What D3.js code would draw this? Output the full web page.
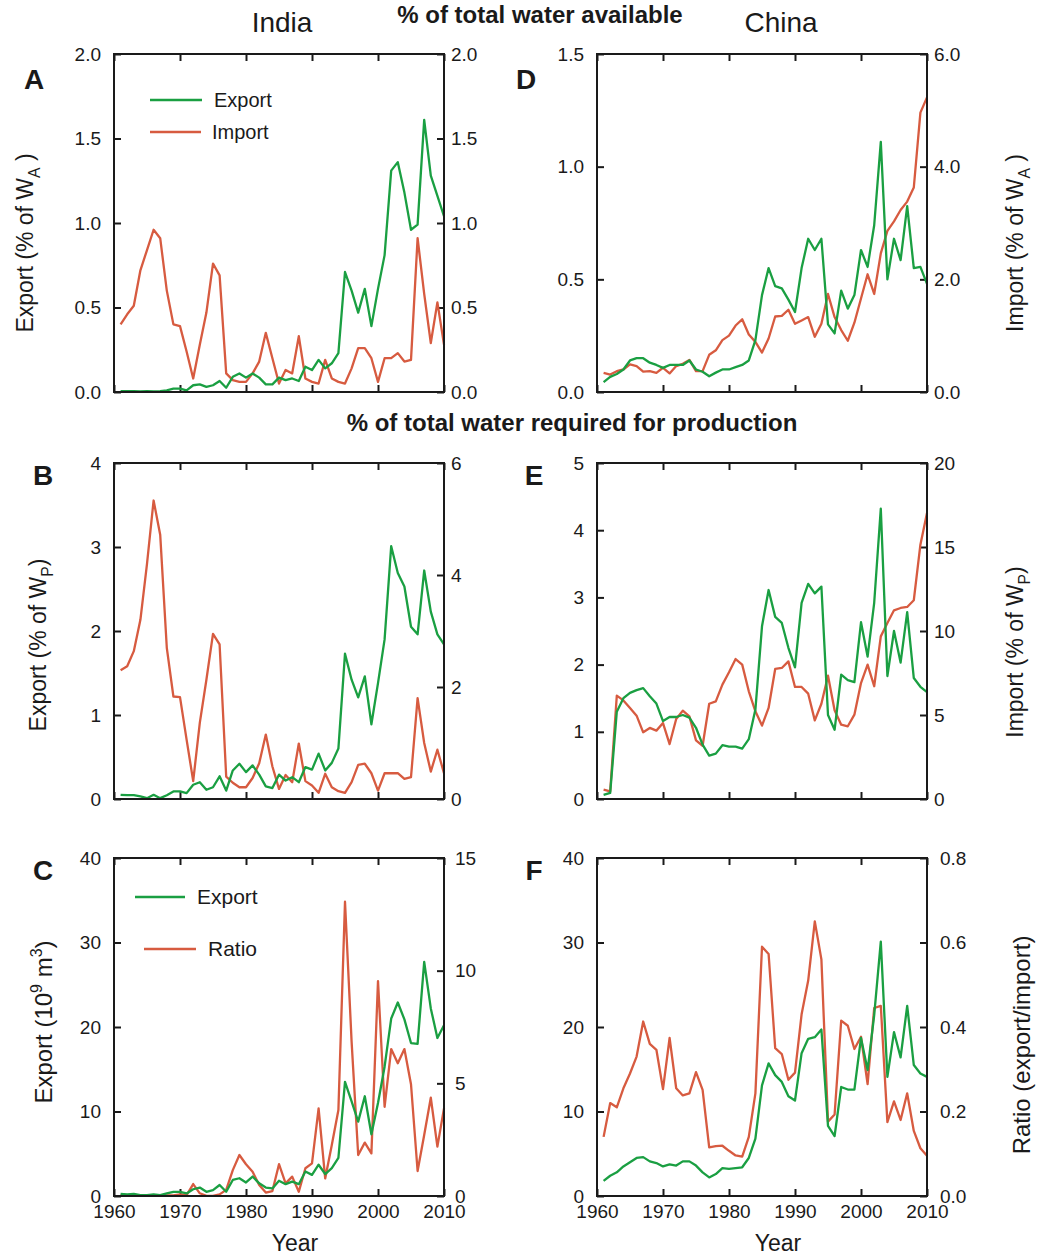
<!DOCTYPE html>
<html>
<head>
<meta charset="utf-8">
<script src="https://cdn.jsdelivr.net/npm/d3@7"></script>
<style>
  html, body { margin: 0; padding: 0; background: #fff; }
  svg { display: block; }
</style>
</head>
<body>
<script>
// ---------------- DATA (years 1961-2010) ----------------
const years = d3.range(1961, 2011);

// India, % of total water available (W_A)
const indiaExportWA = [
  0.005, 0.005, 0.005, 0.003, 0.005, 0.003, 0.005, 0.01, 0.02, 0.02,
  0.01, 0.04, 0.045, 0.03, 0.04, 0.065, 0.025, 0.09, 0.11, 0.085,
  0.11, 0.085, 0.045, 0.045, 0.085, 0.07, 0.08, 0.065, 0.15, 0.13,
  0.19, 0.14, 0.17, 0.23, 0.71, 0.60, 0.47, 0.61, 0.39, 0.61,
  0.81, 1.31, 1.36, 1.18, 0.96, 0.99, 1.61, 1.28, 1.16, 1.04
];
const indiaImportWA = [
  0.40, 0.46, 0.51, 0.72, 0.84, 0.96, 0.91, 0.60, 0.40, 0.39,
  0.24, 0.08, 0.28, 0.47, 0.76, 0.69, 0.11, 0.07, 0.06, 0.06,
  0.11, 0.18, 0.35, 0.20, 0.05, 0.13, 0.11, 0.33, 0.08, 0.06,
  0.05, 0.19, 0.08, 0.06, 0.05, 0.14, 0.26, 0.26, 0.20, 0.06,
  0.20, 0.20, 0.23, 0.18, 0.19, 0.91, 0.58, 0.29, 0.53, 0.28
];
// China, % of W_A
const chinaExportWA = [
  0.044, 0.067, 0.08, 0.10, 0.14, 0.15, 0.15, 0.13, 0.12, 0.107,
  0.12, 0.12, 0.12, 0.14, 0.10, 0.09, 0.07, 0.086, 0.10, 0.10,
  0.11, 0.12, 0.14, 0.23, 0.43, 0.55, 0.47, 0.46, 0.41, 0.355,
  0.55, 0.68, 0.63, 0.68, 0.30, 0.26, 0.45, 0.37, 0.43, 0.63,
  0.555, 0.74, 1.11, 0.50, 0.68, 0.585, 0.825, 0.55, 0.555, 0.48
];
const chinaImportWA = [
  0.34, 0.31, 0.37, 0.40, 0.49, 0.46, 0.36, 0.37, 0.34, 0.43,
  0.33, 0.46, 0.50, 0.57, 0.37, 0.37, 0.66, 0.74, 0.92, 1.00,
  1.18, 1.29, 1.02, 0.89, 0.70, 0.95, 1.34, 1.35, 1.46, 1.21,
  1.27, 1.33, 0.98, 1.21, 1.74, 1.33, 1.10, 0.91, 1.23, 1.66,
  2.09, 1.74, 2.46, 2.86, 3.03, 3.23, 3.38, 3.63, 4.96, 5.23
];
// India, % of total water required for production (W_P)
const indiaExportWP = [
  0.05, 0.045, 0.045, 0.03, 0.01, 0.05, 0.01, 0.045, 0.09, 0.09,
  0.07, 0.17, 0.20, 0.11, 0.14, 0.27, 0.10, 0.34, 0.42, 0.32,
  0.40, 0.29, 0.15, 0.13, 0.29, 0.22, 0.26, 0.20, 0.38, 0.35,
  0.54, 0.34, 0.43, 0.60, 1.73, 1.42, 1.21, 1.46, 0.89, 1.38,
  1.90, 3.01, 2.69, 2.53, 2.05, 1.96, 2.72, 2.23, 1.96, 1.84
];
const indiaImportWP = [
  2.30, 2.37, 2.64, 3.20, 4.20, 5.33, 4.72, 2.70, 1.83, 1.82,
  1.06, 0.32, 1.36, 2.13, 2.95, 2.76, 0.40, 0.29, 0.21, 0.21,
  0.375, 0.64, 1.15, 0.58, 0.18, 0.43, 0.30, 0.99, 0.32, 0.24,
  0.11, 0.45, 0.21, 0.14, 0.11, 0.30, 0.61, 0.63, 0.46, 0.15,
  0.46, 0.46, 0.46, 0.36, 0.39, 1.80, 1.00, 0.49, 0.88, 0.46
];
// China, % of W_P
const chinaExportWP = [
  0.06, 0.09, 1.30, 1.50, 1.58, 1.62, 1.65, 1.53, 1.42, 1.16,
  1.22, 1.22, 1.25, 1.21, 1.06, 0.81, 0.645, 0.675, 0.80, 0.78,
  0.78, 0.75, 0.89, 1.33, 2.57, 3.11, 2.71, 2.62, 2.25, 1.96,
  2.92, 3.20, 3.06, 3.16, 1.25, 1.03, 1.85, 1.77, 1.74, 2.63,
  2.12, 2.92, 4.32, 1.83, 2.50, 2.03, 2.78, 1.80, 1.67, 1.59
];
const chinaImportWP = [
  0.56, 0.46, 6.15, 5.87, 5.42, 4.96, 3.97, 4.23, 4.07, 4.52,
  3.27, 4.76, 5.26, 4.92, 3.49, 3.17, 5.67, 5.81, 6.81, 7.54,
  8.33, 8.00, 6.41, 5.22, 4.37, 5.42, 7.74, 7.80, 8.19, 6.67,
  6.67, 6.27, 4.68, 5.67, 7.34, 5.28, 4.42, 4.33, 5.02, 6.90,
  8.00, 6.71, 9.68, 10.48, 11.23, 11.37, 11.43, 11.83, 15.14, 17.02
];
// Export volume (10^9 m^3) and ratio export/import
const indiaExportVol = [
  0.24, 0.2, 0.24, 0.1, 0.1, 0.2, 0.1, 0.3, 0.5, 0.5,
  0.3, 0.8, 1.0, 0.5, 0.7, 1.3, 0.5, 1.9, 2.1, 1.6,
  2.3, 1.5, 1.0, 0.9, 1.8, 1.4, 1.7, 1.4, 2.9, 2.5,
  3.7, 2.6, 3.3, 4.5, 13.5, 11.2, 8.8, 11.8, 7.3, 11.0,
  15.3, 21.0, 22.9, 20.9, 18.1, 18.0, 27.7, 22.2, 18.7, 20.2
];
const indiaRatio = [
  0.04, 0.03, 0.03, 0.03, 0.03, 0.03, 0.03, 0.03, 0.03, 0.07,
  0.04, 0.53, 0.12, 0.01, 0.01, 0.07, 0.27, 1.15, 1.82, 1.41,
  1.08, 0.49, 0.15, 0.22, 1.41, 0.56, 0.86, 0.19, 1.23, 1.45,
  3.89, 0.78, 2.26, 3.82, 13.06, 6.85, 1.82, 2.37, 1.89, 9.54,
  3.96, 6.52, 5.89, 6.52, 4.96, 1.11, 2.71, 4.36, 2.19, 3.89
];
const chinaExportVol = [
  1.8, 2.4, 2.8, 3.5, 4.0, 4.5, 4.6, 4.1, 3.9, 3.5,
  3.75, 3.6, 4.1, 4.1, 3.6, 2.8, 2.2, 2.6, 3.3, 3.2,
  3.3, 3.4, 4.5, 6.8, 13.1, 15.7, 14.3, 13.5, 11.8, 11.3,
  16.9, 18.6, 18.8, 19.7, 8.3, 7.1, 12.9, 12.6, 12.6, 18.7,
  14.9, 21.4, 30.1, 14.1, 19.4, 16.4, 22.5, 15.5, 14.5, 14.1
];
const chinaRatio = [
  0.14, 0.22, 0.21, 0.255, 0.29, 0.33, 0.413, 0.36, 0.346, 0.253,
  0.374, 0.255, 0.238, 0.243, 0.293, 0.251, 0.115, 0.118, 0.119, 0.107,
  0.096, 0.093, 0.14, 0.243, 0.59, 0.573, 0.35, 0.336, 0.275, 0.292,
  0.43, 0.51, 0.65, 0.56, 0.176, 0.193, 0.415, 0.403, 0.348, 0.377,
  0.265, 0.445, 0.45, 0.175, 0.224, 0.18, 0.243, 0.154, 0.113, 0.095
];

// Tick labels
const xTicks = [1960, 1970, 1980, 1990, 2000, 2010];
const ticksA_L = [0, 0.5, 1.0, 1.5, 2.0], ticksA_R = [0, 0.5, 1.0, 1.5, 2.0];
const ticksD_L = [0, 0.5, 1.0, 1.5],      ticksD_R = [0, 2, 4, 6];
const ticksB_L = [0, 1, 2, 3, 4],         ticksB_R = [0, 2, 4, 6];
const ticksE_L = [0, 1, 2, 3, 4, 5],      ticksE_R = [0, 5, 10, 15, 20];
const ticksC_L = [0, 10, 20, 30, 40],     ticksC_R = [0, 5, 10, 15];
const ticksF_L = [0, 10, 20, 30, 40],     ticksF_R = [0, 0.2, 0.4, 0.6, 0.8];

// ---------------- STYLE ----------------
const GREEN = "#1a9f42";
const RED = "#d75b40";
const FONT = "'Liberation Sans', Arial, Helvetica, sans-serif";
const INK = "#1a1a1a";

const svg = d3.select("body").append("svg")
  .attr("width", 1041).attr("height", 1257)
  .attr("font-family", FONT);

function panel(cfg) {
  const x = d3.scaleLinear().domain([1960, 2010]).range([cfg.x0, cfg.x1]);
  const yL = d3.scaleLinear().domain(cfg.lDom).range([cfg.y1, cfg.y0]);
  const yR = d3.scaleLinear().domain(cfg.rDom).range([cfg.y1, cfg.y0]);
  const g = svg.append("g");

  const styleAxis = (sel) => {
    sel.select(".domain").remove();
    sel.selectAll(".tick line").attr("stroke", INK).attr("stroke-width", 2);
    sel.selectAll(".tick text").attr("fill", INK).attr("font-size", 19).attr("font-family", FONT);
  };

  g.append("g").attr("transform", `translate(${cfg.x0},0)`)
    .call(d3.axisLeft(yL).tickValues(cfg.lTicks).tickFormat(cfg.lFmt).tickSize(-7).tickPadding(13))
    .call(styleAxis);
  g.append("g").attr("transform", `translate(${cfg.x1},0)`)
    .call(d3.axisRight(yR).tickValues(cfg.rTicks).tickFormat(cfg.rFmt).tickSize(-7).tickPadding(cfg.rPad))
    .call(styleAxis);
  g.append("g").attr("transform", `translate(0,${cfg.y1})`)
    .call(d3.axisBottom(x).tickValues(xTicks).tickFormat(cfg.xLabels ? d3.format("d") : () => "").tickSize(-7).tickPadding(9))
    .call(styleAxis);
  g.append("g").attr("transform", `translate(0,${cfg.y0})`)
    .call(d3.axisTop(x).tickValues(xTicks).tickFormat(() => "").tickSize(-7))
    .call(styleAxis);

  // series
  cfg.series.forEach(s => {
    const y = s.axis === "L" ? yL : yR;
    const line = d3.line().x((d, i) => x(years[i])).y(d => y(d));
    g.append("path").datum(s.values)
      .attr("fill", "none").attr("stroke", s.color)
      .attr("stroke-width", 2.3).attr("stroke-linejoin", "round")
      .attr("d", line);
  });

  // frame
  g.append("rect").attr("x", cfg.x0).attr("y", cfg.y0)
    .attr("width", cfg.x1 - cfg.x0).attr("height", cfg.y1 - cfg.y0)
    .attr("fill", "none").attr("stroke", INK).attr("stroke-width", 2);

  // panel letter
  g.append("text").attr("x", cfg.letterX).attr("y", cfg.letterY)
    .attr("text-anchor", "middle").attr("font-weight", "bold")
    .attr("font-size", 28).attr("fill", INK).text(cfg.letter);
  return g;
}

const f1 = d3.format(".1f"), f0 = d3.format("d");

panel({ x0: 114, x1: 444, y0: 54, y1: 392, lDom: [0, 2], rDom: [0, 2],
  lTicks: ticksA_L, rTicks: ticksA_R, lFmt: f1, rFmt: f1, rPad: 7, xLabels: false,
  series: [{ values: indiaImportWA, axis: "R", color: RED }, { values: indiaExportWA, axis: "L", color: GREEN }],
  letter: "A", letterX: 34, letterY: 89 });
panel({ x0: 597, x1: 927, y0: 54, y1: 392, lDom: [0, 1.5], rDom: [0, 6],
  lTicks: ticksD_L, rTicks: ticksD_R, lFmt: f1, rFmt: f1, rPad: 7, xLabels: false,
  series: [{ values: chinaImportWA, axis: "R", color: RED }, { values: chinaExportWA, axis: "L", color: GREEN }],
  letter: "D", letterX: 526, letterY: 89 });
panel({ x0: 114, x1: 444, y0: 463, y1: 799, lDom: [0, 4], rDom: [0, 6],
  lTicks: ticksB_L, rTicks: ticksB_R, lFmt: f0, rFmt: f0, rPad: 7, xLabels: false,
  series: [{ values: indiaImportWP, axis: "R", color: RED }, { values: indiaExportWP, axis: "L", color: GREEN }],
  letter: "B", letterX: 43, letterY: 485 });
panel({ x0: 597, x1: 927, y0: 463, y1: 799, lDom: [0, 5], rDom: [0, 20],
  lTicks: ticksE_L, rTicks: ticksE_R, lFmt: f0, rFmt: f0, rPad: 7, xLabels: false,
  series: [{ values: chinaImportWP, axis: "R", color: RED }, { values: chinaExportWP, axis: "L", color: GREEN }],
  letter: "E", letterX: 534, letterY: 485 });
panel({ x0: 114, x1: 444, y0: 858, y1: 1196, lDom: [0, 40], rDom: [0, 15],
  lTicks: ticksC_L, rTicks: ticksC_R, lFmt: f0, rFmt: f0, rPad: 11, xLabels: true,
  series: [{ values: indiaRatio, axis: "R", color: RED }, { values: indiaExportVol, axis: "L", color: GREEN }],
  letter: "C", letterX: 43, letterY: 880 });
panel({ x0: 597, x1: 927, y0: 858, y1: 1196, lDom: [0, 40], rDom: [0, 0.8],
  lTicks: ticksF_L, rTicks: ticksF_R, lFmt: f0, rFmt: f1, rPad: 13, xLabels: true,
  series: [{ values: chinaRatio, axis: "R", color: RED }, { values: chinaExportVol, axis: "L", color: GREEN }],
  letter: "F", letterX: 534, letterY: 880 });

// ---------------- legends ----------------
function legend(items) {
  items.forEach(it => {
    svg.append("line").attr("x1", it.x1).attr("x2", it.x2).attr("y1", it.y).attr("y2", it.y)
      .attr("stroke", it.color).attr("stroke-width", 2.3);
    svg.append("text").attr("x", it.tx).attr("y", it.y).attr("dy", "0.35em")
      .attr("font-size", it.fs).attr("fill", INK).text(it.label);
  });
}
legend([
  { x1: 150, x2: 202, y: 100, color: GREEN, tx: 214, label: "Export", fs: 20 },
  { x1: 150, x2: 201, y: 132, color: RED, tx: 212, label: "Import", fs: 20 },
  { x1: 135, x2: 185, y: 897, color: GREEN, tx: 197, label: "Export", fs: 21 },
  { x1: 144, x2: 196, y: 949, color: RED, tx: 208, label: "Ratio", fs: 21 }
]);

// ---------------- titles ----------------
function txt(x, y, s, fs, bold) {
  svg.append("text").attr("x", x).attr("y", y).attr("text-anchor", "middle")
    .attr("font-size", fs).attr("font-weight", bold ? "bold" : "normal")
    .attr("fill", INK).text(s);
}
txt(282, 32, "India", 28, false);
txt(781, 32, "China", 28, false);
txt(540, 23, "% of total water available", 24, true);
txt(572, 431, "% of total water required for production", 24, true);
txt(295, 1251, "Year", 23, false);
txt(778, 1251, "Year", 23, false);

// ---------------- rotated axis labels ----------------
function vlabel(bx, cy, fs, parts) {
  const t = svg.append("text")
    .attr("transform", `translate(${bx},${cy}) rotate(-90)`)
    .attr("text-anchor", "middle").attr("font-size", fs).attr("fill", INK);
  parts.forEach(p => {
    const sp = t.append("tspan").text(p.t);
    if (p.dy) sp.attr("dy", p.dy);
    if (p.fs) sp.attr("font-size", p.fs);
  });
}
const sub = (main, s, tail, fs) => [
  { t: main }, { t: s, dy: 7, fs: fs * 0.68 }, { t: tail, dy: -7 }
];
vlabel(33, 243, 23, sub("Export (% of W", "A", " )", 23));
vlabel(1023, 243, 23, sub("Import (% of W", "A", " )", 23));
vlabel(46, 645, 23, sub("Export (% of W", "P", ")", 23));
vlabel(1023, 652, 23, sub("Import (% of W", "P", ")", 23));
vlabel(52, 1022, 24, [
  { t: "Export (10" }, { t: "9", dy: -10, fs: 16 }, { t: " m", dy: 10 },
  { t: "3", dy: -10, fs: 16 }, { t: ")", dy: 10 }
]);
vlabel(1030, 1045, 24, [{ t: "Ratio (export/import)" }]);
</script>
</body>
</html>
